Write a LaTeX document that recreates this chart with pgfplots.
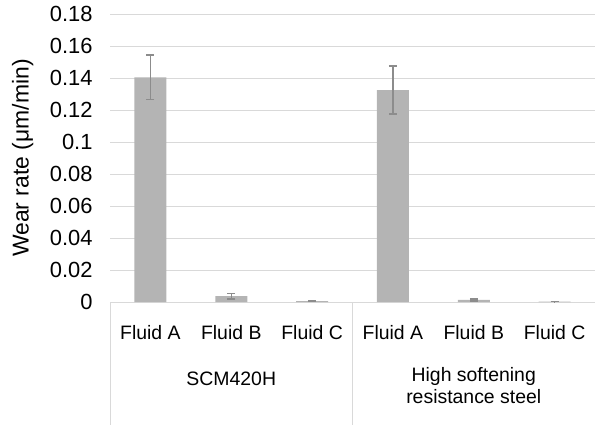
\documentclass[border=0pt]{standalone}
\usepackage{pgfplots}
\pgfplotsset{compat=1.18}
\usetikzlibrary{calc}
\usepackage{fontspec}
\setmainfont{Liberation Sans}
\definecolor{barc}{RGB}{180,180,180}
\definecolor{gridc}{RGB}{217,217,217}
\definecolor{errc}{RGB}{140,140,140}
\begin{document}
\begin{tikzpicture}
\begin{axis}[
  scale only axis, width=485bp, height=288bp,
  xmin=-0.5, xmax=5.5, ymin=0, ymax=0.18,
  ytick={0,0.02,0.04,0.06,0.08,0.1,0.12,0.14,0.16,0.18},
  yticklabels={0,0.02,0.04,0.06,0.08,0.1,0.12,0.14,0.16,0.18},
  xtick={0,1,2,3,4,5},
  xticklabels={Fluid A,Fluid B,Fluid C,Fluid A,Fluid B,Fluid C},
  major tick length=0,
  axis line style={draw=none},
  ymajorgrids, grid style={gridc, line width=0.9bp},
  ybar, bar width=32bp,
  clip=false,
  yticklabel style={font=\fontsize{22}{24}\selectfont, xshift=-14bp},
  xticklabel style={font=\fontsize{19.5}{22}\selectfont, anchor=center, yshift=-31bp},
  ylabel={Wear rate (μm/min)},
  ylabel style={font=\fontsize{23}{25}\selectfont, at={(axis description cs:-0.18,0.5)}, anchor=center},
]
\addplot[fill=barc, draw=none,
  error bars/.cd, y dir=both, y explicit,
  error bar style={errc, line width=1.3bp},
  error mark options={errc, line width=1.3bp, mark size=4bp, rotate=90}]
  coordinates {
  (0,0.1404) +- (0,0.0139)
  (1,0.0037) +- (0,0.0018)
  (2,0.0006) +- (0,0.0002)
  (3,0.1325) +- (0,0.0150)
  (4,0.0013) +- (0,0.0006)
  (5,0.0003) +- (0,0.0001)
  };
\coordinate (sw) at (rel axis cs:0,0);
\coordinate (ne) at (rel axis cs:1,1);
\draw[gridc, line width=0.9bp] (axis cs:-0.5,0) -- ([yshift=-123bp]axis cs:-0.5,0);
\draw[gridc, line width=0.9bp] (axis cs:2.5,0) -- ([yshift=-123bp]axis cs:2.5,0);
\draw[gridc, line width=0.9bp] (axis cs:5.5,0) -- ([yshift=-123bp]axis cs:5.5,0);
\node[font=\fontsize{19.5}{22}\selectfont, anchor=center] at ([yshift=-77bp]axis cs:1,0) {SCM420H};
\node[font=\fontsize{19.5}{22}\selectfont, align=center, anchor=north, inner sep=0pt] at ([yshift=-65bp]axis cs:4,0) {High softening\\resistance steel};
\end{axis}
\pgfresetboundingbox
\path[use as bounding box] ($(sw)+(-110bp,-123bp)$) rectangle ($(ne)+(0,14bp)$);
\end{tikzpicture}
\end{document}
